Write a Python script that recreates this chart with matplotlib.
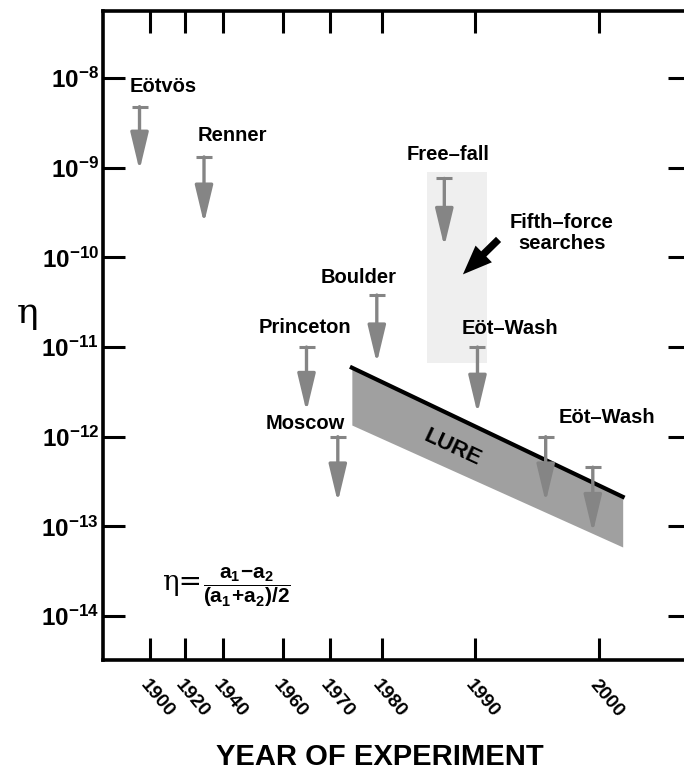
import numpy as np
import matplotlib
matplotlib.use('Agg')
import matplotlib.pyplot as plt
from matplotlib.ticker import NullLocator

plt.rcParams['font.family'] = ['Liberation Sans', 'DejaVu Sans']
plt.rcParams['font.weight'] = 'bold'
plt.rcParams['mathtext.fontset'] = 'custom'
plt.rcParams['mathtext.rm'] = 'Liberation Sans'
plt.rcParams['mathtext.bf'] = 'Liberation Sans:bold'
plt.rcParams['mathtext.it'] = 'Liberation Sans:italic'

# upper limits on eta from each experiment (log10), arrow drawn down from the limit
years = [1894, 1930, 1965, 1971.5, 1979, 1986.7, 1990.2, 1995.7, 1999.5]
log_eta = [-8.32, -8.88, -11.0, -12.0, -10.42, -9.12, -11.0, -12.0, -12.34]
log_arrow_end = [-9.03, -9.62, -11.72, -12.73, -11.18, -9.88, -11.74, -12.73, -13.07]

# lunar laser ranging band
lure_years = [1974.2, 2001.9]
lure_upper = [-11.23, -12.67]
lure_lower = [-11.87, -13.23]

# fifth-force searches region
fifth_years = [1984.8, 1991.0]
fifth_low, fifth_high = -11.18, -9.05

tick_years = [1900, 1920, 1940, 1960, 1970, 1980, 1990, 2000]
ytick_exp = [-8, -9, -10, -11, -12, -13, -14]

# year axis is piecewise linear (uneven spacing between ticks)
scale_years = [1873.1, 1900, 1920, 1940, 1960, 1970, 1980, 1990, 2000, 2007.3]
scale_pos = [0, 47, 82, 120, 180, 227, 279, 372, 496, 587]


def fwd(x):
    return np.interp(x, scale_years, scale_pos)


def inv(x):
    return np.interp(x, scale_pos, scale_years)


gray = '#858585'

fig = plt.figure(figsize=(6.84, 7.7), dpi=100)
ax = fig.add_axes([103 / 684, 1 - 660 / 770, 587 / 684, 649 / 770])
ax.set_xscale('function', functions=(fwd, inv))
ax.set_yscale('log')
ax.set_xlim(scale_years[0], scale_years[-1])
ax.set_ylim(10 ** -14.49, 10 ** -7.253)

# shaded boxes
ax.fill_between(fifth_years, 10 ** fifth_low, 10 ** fifth_high,
                color='#efefef', lw=0, zorder=0)
ax.fill_between(lure_years, 10 ** np.array(lure_lower), 10 ** np.array(lure_upper),
                color='#a0a0a0', lw=0, zorder=1)
ax.plot(lure_years, 10 ** np.array(lure_upper), color='black', lw=3, zorder=2)
ax.text(1987.6, 10 ** -12.12, 'LURE', rotation=-25, ha='center', va='center',
        fontsize=16, zorder=3)

# limit arrows
for yr, top, end in zip(years, log_eta, log_arrow_end):
    ax.plot([yr], [10 ** top], marker='_', ms=12, mew=2.2, color=gray, zorder=4)
    ax.annotate('', xy=(yr, 10 ** end), xytext=(yr, 10 ** top),
                arrowprops=dict(arrowstyle='-|>,head_length=2.3,head_width=0.55',
                                mutation_scale=10, color=gray, lw=2.4,
                                shrinkA=0, shrinkB=0), zorder=4)

labels = [('Eötvös', 1907.4, -8.10), ('Renner', 1943, -8.64),
          ('Princeton', 1964.7, -10.78), ('Moscow', 1964.7, -11.85),
          ('Boulder', 1975.6, -10.22), ('Free–fall', 1987.1, -8.85),
          ('Eöt–Wash', 1992.8, -10.79), ('Eöt–Wash', 2000.6, -11.79),
          ('Fifth–force\nsearches', 1997.0, -9.73)]
for txt, lx, ly in labels:
    ax.text(lx, 10 ** ly, txt, ha='center', va='center', fontsize=14.5,
            linespacing=1.15, zorder=5)

ax.annotate('', xy=(1988.7, 10 ** -10.19), xytext=(1991.9, 10 ** -9.80),
            arrowprops=dict(arrowstyle='simple,head_length=1.0,head_width=0.8,tail_width=0.25',
                            mutation_scale=21, color='black', lw=0,
                            shrinkA=0, shrinkB=0), zorder=5)

# definition of eta
ax.text(0.100, 0.119, 'η=', transform=ax.transAxes, fontsize=20,
        family='DejaVu Serif', weight='normal', ha='left', va='center')
ax.text(0.2445, 0.113, r'$\dfrac{\mathrm{a_1\!-\!a_2}}{\mathrm{(a_1\!+\!a_2)/2}}$',
        transform=ax.transAxes, fontsize=15, ha='center', va='center')

# axes styling
ax.set_xticks(tick_years)
ax.set_xticklabels([str(y) for y in tick_years], fontsize=14)
for lab in ax.get_xticklabels():
    lab.set_rotation(-50)
    lab.set_ha('left')
    lab.set_va('top')
    lab.set_rotation_mode('anchor')
ax.set_yticks([10.0 ** e for e in ytick_exp])
ax.set_yticklabels([r'$\mathbf{10^{%d}}$' % e for e in ytick_exp], fontsize=17.5)
ax.yaxis.set_minor_locator(NullLocator())
ax.xaxis.set_minor_locator(NullLocator())
ax.tick_params(axis='both', which='major', direction='in', length=16, width=2.2,
               top=True, right=True)
ax.tick_params(axis='x', pad=12)
ax.tick_params(axis='y', pad=3)
for s in ax.spines.values():
    s.set_linewidth(2.6)

ax.text(-0.129, 0.535, 'η', transform=ax.transAxes, fontsize=26,
        family='DejaVu Serif', weight='normal', ha='center', va='center')
fig.text(380 / 684, 1 - 757 / 770, 'YEAR OF EXPERIMENT', fontsize=21,
         ha='center', va='center')

fig.savefig('out.png', dpi=100)
